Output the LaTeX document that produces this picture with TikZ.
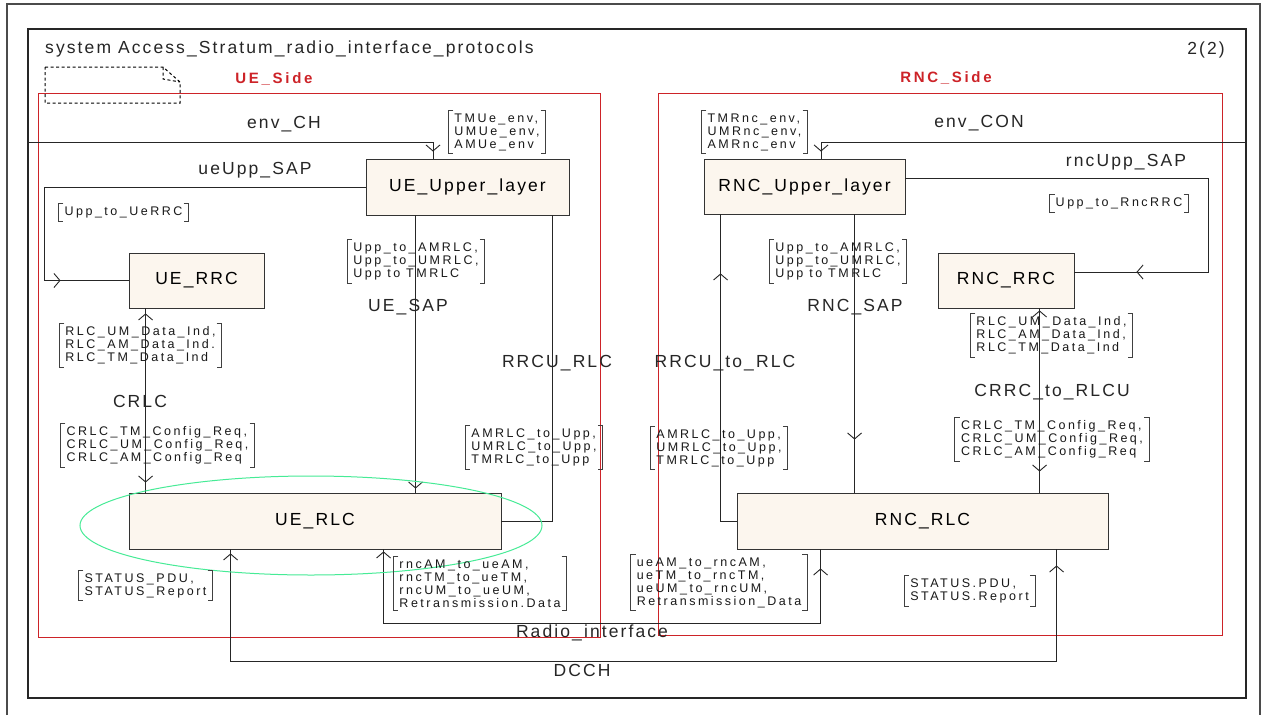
\documentclass[tikz,border=0pt]{standalone}
\usepackage{fontspec}
\setmainfont{Liberation Sans}
\newfontfamily\sdlfont[LetterSpace=12]{Liberation Sans}
\newfontfamily\sigfont[LetterSpace=20]{Liberation Sans}
\newfontfamily\sidefont[LetterSpace=18]{Liberation Sans}
\usetikzlibrary{arrows.meta,decorations.markings}
\definecolor{boxfill}{RGB}{252,246,238}
\definecolor{sidered}{RGB}{205,35,40}
\definecolor{ringgreen}{RGB}{70,235,150}
\definecolor{framegray}{RGB}{75,75,75}
\tikzset{
  blockbox/.style={draw=black!80, fill=boxfill, line width=0.9pt, inner sep=0pt,
    font=\sdlfont\fontsize{17.5}{20}\selectfont},
  chlabel/.style={inner sep=0pt, text=black!85, font=\sdlfont\fontsize{17.5}{20}\selectfont},
  sidelabel/.style={inner sep=0pt, text=sidered, font=\sidefont\bfseries\fontsize{15}{17}\selectfont},
  siglist/.style={inner xsep=6pt, inner ysep=3pt, align=left, text=black!90,
    font=\sigfont\fontsize{12.5}{13}\selectfont},
  brk/.style={line width=0.8pt, draw=black!75},
  chan/.style={line width=0.9pt, draw=black!85},
  headat/.style={postaction={decorate,decoration={markings,mark=at position #1 with {\arrow{>}}}}},
  backat/.style={postaction={decorate,decoration={markings,mark=at position #1 with {\arrow{<}}}}},
}
\begin{document}
\begin{tikzpicture}[x=1pt, y=-1pt, >={Straight Barb[length=6pt,width=14pt]}]
\useasboundingbox (0,0) rectangle (1263,715);
\fill[white] (0,0) rectangle (1263,715);

\draw[framegray, line width=1.6pt] (7,715) -- (7,4) -- (1260,4) -- (1260,715);
\draw[black!85, line width=1.1pt] (28,29) rectangle (1246,698);
\draw[sidered, line width=0.9pt] (38,93) rectangle (600,637);
\draw[sidered, line width=0.9pt] (658,93) rectangle (1222,635);
\draw[black, line width=1pt, dash pattern=on 3pt off 2.5pt] (45,67) -- (163,67) -- (180,82) -- (180,103) -- (45,103) -- cycle
  (163,67) -- (163,79) -- (180,82);

\node[chlabel, anchor=west] (title) at (45,49) {system Access\_Stratum\_radio\_interface\_protocols};
\node[chlabel] (page) at (1206,50) {2(2)};
\node[sidelabel] (ueside) at (274,79) {UE\_Side};
\node[sidelabel] (rncside) at (946,78) {RNC\_Side};

\node[blockbox, minimum width=203pt, minimum height=56pt] (uppUE) at (467.5,187) {UE\_Upper\_layer};
\node[blockbox, minimum width=135pt, minimum height=55pt] (rrcUE) at (196.5,280.5) {UE\_RRC};
\node[blockbox, minimum width=372pt, minimum height=56pt] (rlcUE) at (315,521) {UE\_RLC};
\node[blockbox, minimum width=201pt, minimum height=55pt] (uppRNC) at (804.5,186.5) {RNC\_Upper\_layer};
\node[blockbox, minimum width=136pt, minimum height=55pt] (rrcRNC) at (1006,280.5) {RNC\_RRC};
\node[blockbox, minimum width=371pt, minimum height=56pt] (rlcRNC) at (922.5,521) {RNC\_RLC};

\coordinate (envUE) at (28,142);
\coordinate (envRNC) at (1246,142);

\draw[chan, headat=-7pt] (envUE) -| ([xshift=-34.5pt]uppUE.north);
\draw[chan, headat=-68pt] (uppUE.west) -| ([xshift=-84pt]rrcUE.west) -- (rrcUE.west);
\draw[chan, backat=12pt, headat=-10pt] ([xshift=17pt]rrcUE.south west) -- ([xshift=17pt]rlcUE.north west);
\draw[chan, headat=-4pt] ([xshift=50pt]uppUE.south west) -- ([xshift=287pt]rlcUE.north west);
\draw[chan] ([xshift=187pt]uppUE.south west) |- (rlcUE.east);
\draw[chan, backat=11pt, headat=-16pt] ([xshift=102pt]rlcUE.south west) -- ++(0,112) -| ([xshift=320pt]rlcRNC.south west);
\draw[chan, backat=9pt, headat=-19pt] ([xshift=255pt]rlcUE.south west) -- ++(0,74) -| ([xshift=84pt]rlcRNC.south west);
\draw[chan, headat=-7pt] (envRNC) -| ([xshift=117.5pt]uppRNC.north west);
\draw[chan, headat=-62pt] ([yshift=8.5pt]uppRNC.east) -| ([xshift=134pt,yshift=8.5pt]rrcRNC.east) -- ([yshift=8.5pt]rrcRNC.east);
\draw[chan, backat=66pt] ([xshift=17pt]uppRNC.south west) |- (rlcRNC.west);
\draw[chan, headat=-53pt] ([xshift=151pt]uppRNC.south west) -- ([xshift=118pt]rlcRNC.north west);
\draw[chan, backat=9pt, headat=-21pt] ([xshift=102pt]rrcRNC.south west) -- ([xshift=303pt]rlcRNC.north west);

\draw[ringgreen, line width=1pt] (311,525.5) ellipse [x radius=231, y radius=49.5];

\node[chlabel] (lenvch) at (284,124) {env\_CH};
\node[chlabel] (lueupp) at (255,170) {ueUpp\_SAP};
\node[chlabel] (luesap) at (408,307) {UE\_SAP};
\node[chlabel] (lcrlc) at (140,401) {CRLC};
\node[chlabel] (lrrcu) at (557,363) {RRCU\_RLC};
\node[chlabel] (ldcch) at (582,670) {DCCH};
\node[chlabel] (lradio) at (592,633) {Radio\_interface};
\node[chlabel] (lenvcon) at (979,123) {env\_CON};
\node[chlabel] (lrncupp) at (1126,162) {rncUpp\_SAP};
\node[chlabel] (lrncsap) at (855,307) {RNC\_SAP};
\node[chlabel] (lrrcurlc) at (725,363) {RRCU\_to\_RLC};
\node[chlabel] (lcrrc) at (1052,392) {CRRC\_to\_RLCU};

\node[siglist] (sUEenv) at (497,132) {TMUe\_env,\\UMUe\_env,\\AMUe\_env};
\node[siglist] (sUErrc) at (123.5,212.5) {Upp\_to\_UeRRC};
\node[siglist] (sUEdata) at (140.5,345) {RLC\_UM\_Data\_Ind,\\RLC\_AM\_Data\_Ind.\\RLC\_TM\_Data\_Ind};
\node[siglist] (sUEcfg) at (157.5,445) {CRLC\_TM\_Config\_Req,\\CRLC\_UM\_Config\_Req,\\CRLC\_AM\_Config\_Req};
\node[siglist] (sUEupp) at (416,261.5) {Upp\_to\_AMRLC,\\Upp\_to\_UMRLC,\\Upp to TMRLC};
\node[siglist] (sUErlc) at (534,447.5) {AMRLC\_to\_Upp,\\UMRLC\_to\_Upp,\\TMRLC\_to\_Upp};
\node[siglist] (sUEstat) at (145.5,585.5) {STATUS\_PDU,\\STATUS\_Report};
\node[siglist] (sUEradio) at (480,583.5) {rncAM\_to\_ueAM,\\rncTM\_to\_ueTM,\\rncUM\_to\_ueUM,\\Retransmission.Data};
\node[siglist] (sRNCenv) at (754.5,132) {TMRnc\_env,\\UMRnc\_env,\\AMRnc\_env};
\node[siglist] (sRNCrrc) at (1119,203.5) {Upp\_to\_RncRRC};
\node[siglist] (sRNCupp) at (838,261.5) {Upp\_to\_AMRLC,\\Upp\_to\_UMRLC,\\Upp to TMRLC};
\node[siglist] (sRNCdata) at (1051.5,335.5) {RLC\_UM\_Data\_Ind,\\RLC\_AM\_Data\_Ind,\\RLC\_TM\_Data\_Ind};
\node[siglist] (sRNCcfg) at (1052,439) {CRLC\_TM\_Config\_Req,\\CRLC\_UM\_Config\_Req,\\CRLC\_AM\_Config\_Req};
\node[siglist] (sRNCrlc) at (719,448) {AMRLC\_to\_Upp,\\UMRLC\_to\_Upp,\\TMRLC\_to\_Upp};
\node[siglist] (sRNCradio) at (719,582.5) {ueAM\_to\_rncAM,\\ueTM\_to\_rncTM,\\ueUM\_to\_rncUM,\\Retransmission\_Data};
\node[siglist] (sRNCstat) at (969.5,591) {STATUS.PDU,\\STATUS.Report};

\foreach \s in {sUEenv,sUErrc,sUEdata,sUEcfg,sUEupp,sUErlc,sUEstat,sUEradio,
  sRNCenv,sRNCrrc,sRNCupp,sRNCdata,sRNCcfg,sRNCrlc,sRNCradio,sRNCstat} {
  \draw[brk] ([xshift=5pt]\s.north west) -- (\s.north west) -- (\s.south west) -- ++(5,0);
  \draw[brk] ([xshift=-5pt]\s.north east) -- (\s.north east) -- (\s.south east) -- ++(-5,0);
}
\end{tikzpicture}
\end{document}
